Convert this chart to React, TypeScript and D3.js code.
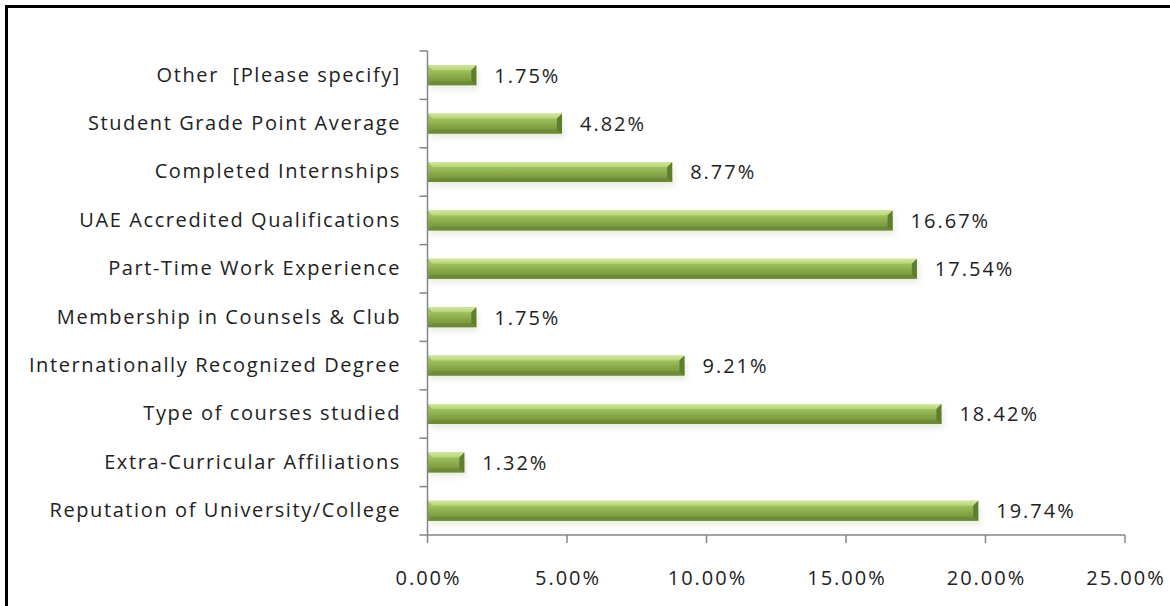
import React from "react";
import * as d3 from "d3";

const categories: string[] = [
  "Other  [Please specify]",
  "Student Grade Point Average",
  "Completed Internships",
  "UAE Accredited Qualifications",
  "Part-Time Work Experience",
  "Membership in Counsels & Club",
  "Internationally Recognized Degree",
  "Type of courses studied",
  "Extra-Curricular Affiliations",
  "Reputation of University/College",
];
const values: number[] = [1.75, 4.82, 8.77, 16.67, 17.54, 1.75, 9.21, 18.42, 1.32, 19.74];
const xTicks: number[] = [0, 5, 10, 15, 20, 25];

const W = 1170;
const H = 606;
const FONT = "'Open Sans', Lato, sans-serif";
const FS = 20;

export default function App() {
  const x = d3.scaleLinear().domain([0, 25]).range([427.5, 1125]);
  const y = d3.scaleBand<string>().domain(categories).range([51, 535]).padding(0);
  const step = y.step();
  const barH = 20;
  const x0 = x(0);
  const axisColor = "#868686";
  const boundaries = d3.range(categories.length + 1).map((i) => 51 + i * step);

  return (
    <svg
      width={W}
      height={H}
      style={{ position: "fixed", left: 0, top: 0, background: "#fff" }}
      fontFamily={FONT}
    >
      <defs>
        <linearGradient id="barGrad" x1="0" y1="0" x2="0" y2="1">
          <stop offset="0" stopColor="#a9c86a" />
          <stop offset="0.3" stopColor="#9bbd5a" />
          <stop offset="0.55" stopColor="#8aab4a" />
          <stop offset="1" stopColor="#6d8b38" />
        </linearGradient>
        <linearGradient id="bevelGrad" x1="0" y1="0" x2="0" y2="1">
          <stop offset="0" stopColor="#d2e89e" />
          <stop offset="1" stopColor="#b4d478" />
        </linearGradient>
        <filter id="shadow" x="-5%" y="-50%" width="110%" height="200%">
          <feGaussianBlur stdDeviation="3" />
        </filter>
      </defs>
      <rect x={0} y={0} width={W} height={H} fill="#fff" />
      {/* frame */}
      <path d={`M6.5,${H + 5} L6.5,6.5 L${W + 5},6.5`} fill="none" stroke="#000" strokeWidth={3} />

      {/* bars */}
      {categories.map((c, i) => {
        const cy = (y(c) as number) + step / 2;
        const top = cy - barH / 2;
        const xe = x(values[i]);
        const w = xe - x0;
        const b = 5;
        return (
          <g key={c}>
            <rect
              x={x0 + 2}
              y={top + 4}
              width={w}
              height={barH}
              fill="#b7c6a0"
              opacity={0.35}
              filter="url(#shadow)"
            />
            <rect x={x0} y={top} width={w} height={barH} fill="url(#barGrad)" />
            <polygon
              points={`${x0},${top} ${xe},${top} ${xe - b},${top + b} ${x0 + b},${top + b}`}
              fill="url(#bevelGrad)"
            />
            <polygon
              points={`${x0},${top + barH} ${xe},${top + barH} ${xe - b},${top + barH - 4} ${x0 + b},${top + barH - 4}`}
              fill="#6a8735"
              opacity={0.7}
            />
            <polygon
              points={`${xe},${top} ${xe},${top + barH} ${xe - b},${top + barH - 4} ${xe - b},${top + b}`}
              fill="#5f7c2f"
            />
            <text
              x={xe + 18}
              y={cy + 2}
              dominantBaseline="middle"
              fontSize={FS}
              letterSpacing={2}
              fill="#222"
            >
              {values[i].toFixed(2) + "%"}
            </text>
          </g>
        );
      })}

      {/* category axis */}
      <line x1={x0} x2={x0} y1={51} y2={535} stroke={axisColor} strokeWidth={1.5} />
      {boundaries.map((b, i) => (
        <line key={i} x1={x0 - 8} x2={x0} y1={b} y2={b} stroke={axisColor} strokeWidth={1.5} />
      ))}
      {categories.map((c) => (
        <text
          key={c}
          x={401}
          y={(y(c) as number) + step / 2 + 1}
          textAnchor="end"
          dominantBaseline="middle"
          fontSize={FS}
          letterSpacing={1.6}
          fill="#222"
          style={{ whiteSpace: "pre" }}
        >
          {c}
        </text>
      ))}

      {/* value axis */}
      <line x1={x0} x2={x(25)} y1={535} y2={535} stroke={axisColor} strokeWidth={1.5} />
      {xTicks.map((t) => (
        <g key={t}>
          <line x1={x(t)} x2={x(t)} y1={535} y2={543} stroke={axisColor} strokeWidth={1.5} />
          <text
            x={x(t) + 1}
            y={580}
            textAnchor="middle"
            dominantBaseline="middle"
            fontSize={FS}
            letterSpacing={2}
            fill="#222"
          >
            {t.toFixed(2) + "%"}
          </text>
        </g>
      ))}
    </svg>
  );
}
